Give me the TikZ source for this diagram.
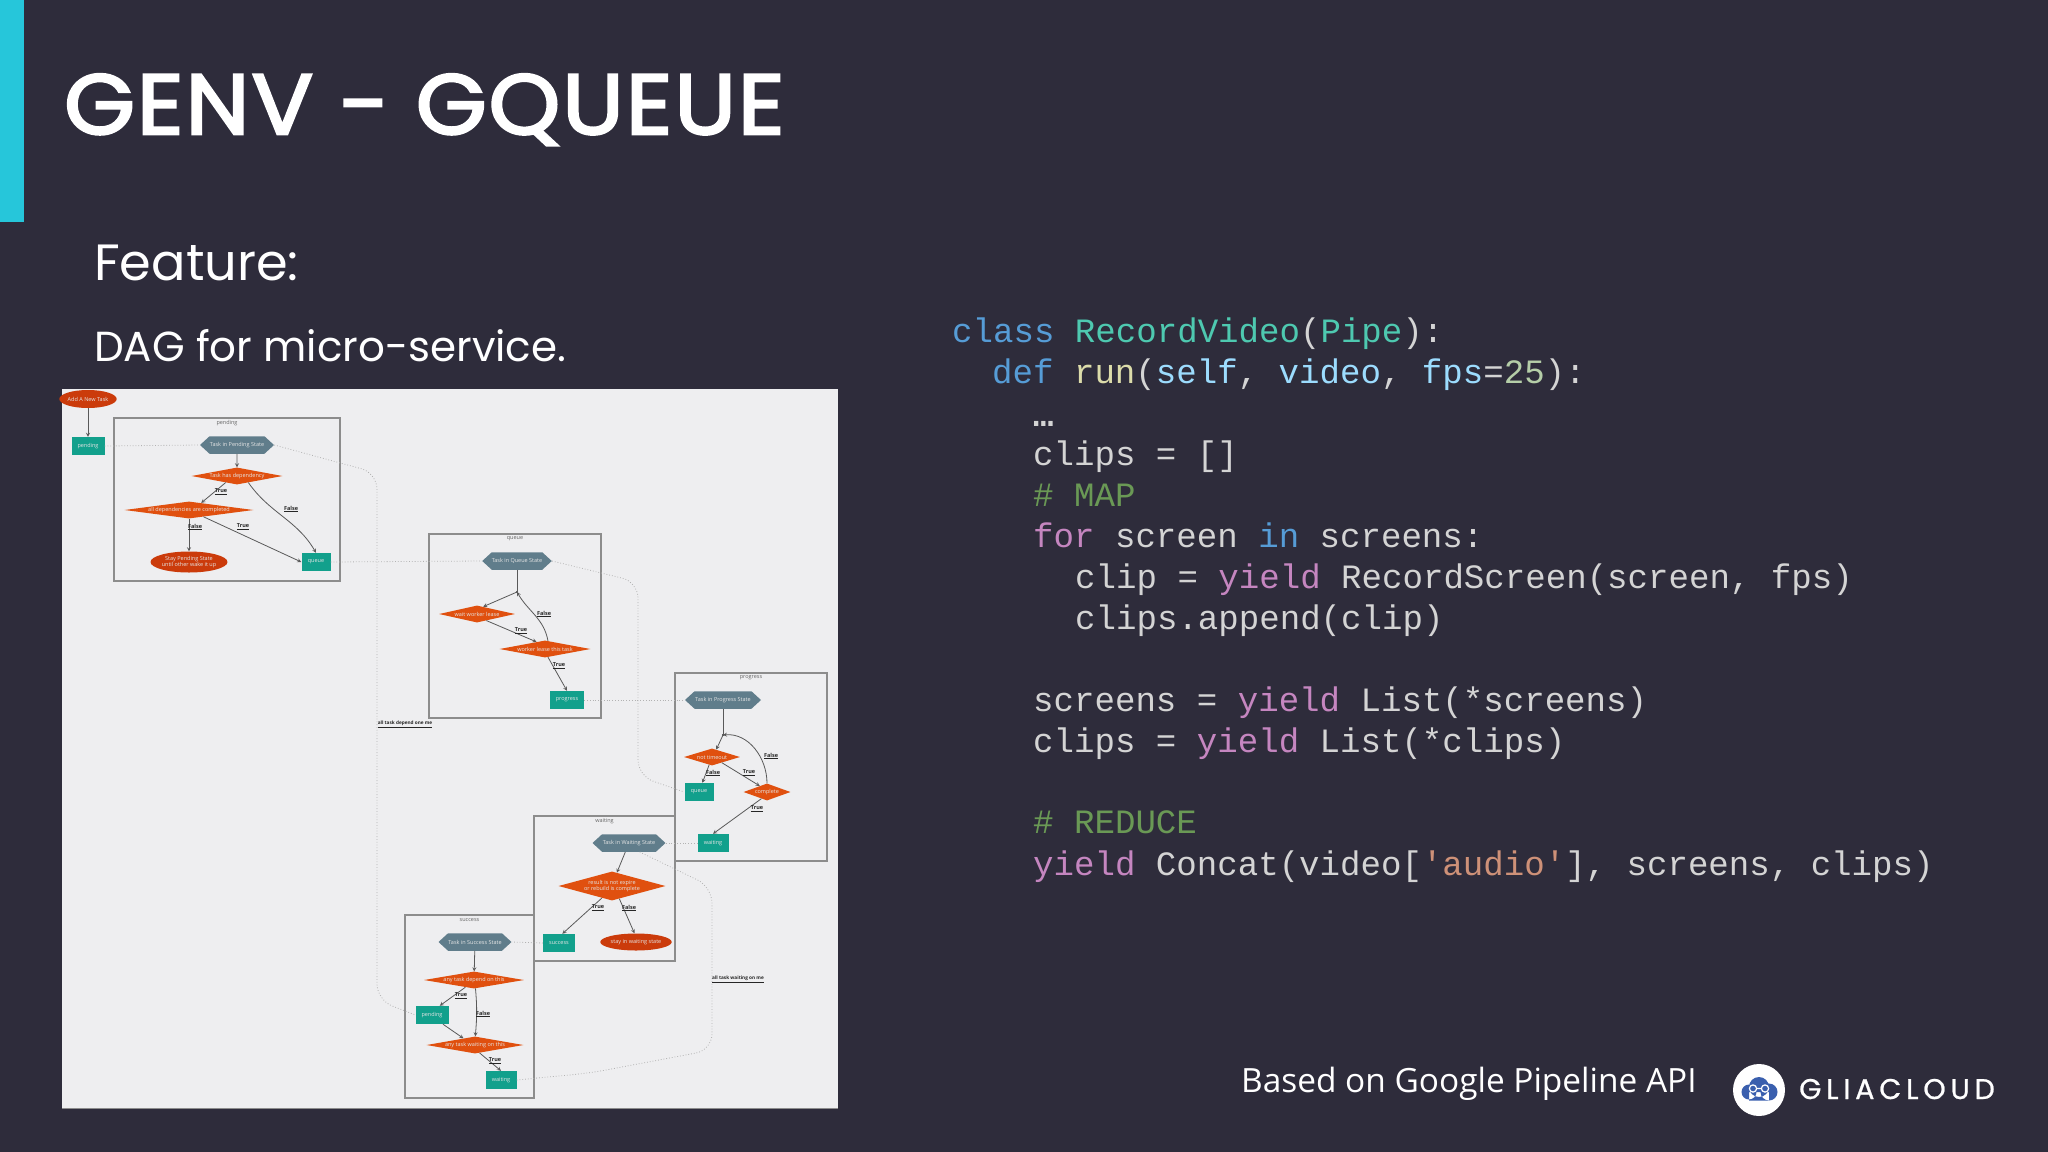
\documentclass[tikz,border=0pt]{standalone}
\usepackage{fontspec}
\usepackage{xcolor}
\setmainfont{Open Sans}
\newfontfamily\headfont{Poppins}
\newfontfamily\titlefont[FakeBold=3,FakeStretch=1.07,LetterSpace=2.4]{Poppins}
\newfontfamily\codefont{Liberation Mono}
\newfontfamily\logofont[LetterSpace=17,FakeBold=0.8]{Poppins}
\usetikzlibrary{arrows}
\usetikzlibrary{shapes.geometric}
\usetikzlibrary{shapes.symbols}
\definecolor{slidebg}{HTML}{2E2C3B}
\definecolor{accentbar}{HTML}{26C6DA}
\definecolor{panelbg}{HTML}{EEEEF0}
\definecolor{taskteal}{HTML}{12A08C}
\definecolor{stateslate}{HTML}{607D8B}
\definecolor{decideorange}{HTML}{E0500F}
\definecolor{endred}{HTML}{CB3B0B}
\definecolor{logoblue}{HTML}{3A5FAE}
\definecolor{codetext}{HTML}{D4D4D4}
\definecolor{codekw}{HTML}{569CD6}
\definecolor{codecls}{HTML}{4EC9B0}
\definecolor{codefn}{HTML}{DCDCAA}
\definecolor{codevar}{HTML}{9CDCFE}
\definecolor{codenum}{HTML}{B5CEA8}
\definecolor{codecmt}{HTML}{6A9955}
\definecolor{codeflow}{HTML}{C586C0}
\definecolor{codestr}{HTML}{CE9178}
\newcommand{\ckw}[1]{\textcolor{codekw}{#1}}
\newcommand{\ccls}[1]{\textcolor{codecls}{#1}}
\newcommand{\cfn}[1]{\textcolor{codefn}{#1}}
\newcommand{\cvar}[1]{\textcolor{codevar}{#1}}
\newcommand{\cnum}[1]{\textcolor{codenum}{#1}}
\newcommand{\ccmt}[1]{\textcolor{codecmt}{#1}}
\newcommand{\cflow}[1]{\textcolor{codeflow}{#1}}
\newcommand{\cstr}[1]{\textcolor{codestr}{#1}}
\tikzset{
    nodetext/.style={text=white!90!black, font=\fontsize{5.5}{6.5}\selectfont, align=center, inner sep=0pt},
    taskbox/.style={nodetext, rectangle, fill=taskteal, minimum width=#1pt, minimum height=18pt},
    statehex/.style={nodetext, signal, signal to=east and west, signal pointer angle=85, fill=stateslate, minimum width=#1pt, minimum height=17.5pt},
    decide/.code n args={2}{\pgfmathsetmacro\decideaspect{#1/#2}\tikzset{nodetext, diamond, fill=decideorange, aspect=\decideaspect, minimum width=#1pt, minimum height=#2pt}},
    endstate/.style n args={2}{nodetext, ellipse, fill=endred, minimum width=#1pt, minimum height=#2pt},
    cluster/.style={draw=black!45, line width=1.2pt},
    clustertitle/.style={text=black!60, font=\fontsize{5.5}{6.5}\selectfont, inner sep=0pt},
    edgelabel/.style={text=black!85, font=\fontsize{5.5}{6.5}\selectfont\bfseries, inner sep=0pt},
    flow/.style={->, >=stealth, draw=black!65, line width=0.8pt},
    depline/.style={draw=black!30, dotted, line width=0.8pt, rounded corners=16pt},
    codeline/.style={anchor=base west, inner sep=0pt, text=codetext, font=\codefont\fontsize{34.1}{41}\selectfont}
}
\begin{document}
\begin{tikzpicture}[x=1pt,y=-1pt]
\useasboundingbox (0,0) rectangle (2048,1151.5);
\fill[slidebg] (0,0) rectangle (2048,1154);
\fill[accentbar] (0,0) rectangle (24,222);
\node[anchor=base west, inner sep=0pt, text=white, font=\titlefont\fontsize{85}{90}\selectfont] (title) at (64,134) {GENV - GQUEUE};
\node[anchor=base west, inner sep=0pt, text=white, font=\headfont\fontsize{51}{60}\selectfont] (feature) at (94,280) {Feature:};
\node[anchor=base west, inner sep=0pt, text=white, font=\headfont\fontsize{42}{50}\selectfont] (dagline) at (94,361) {DAG for micro-service.};
% code
\foreach \x/\y/\p/\labeltext in {
    952/342/c1/{\ckw{class} \ccls{RecordVideo}(\ccls{Pipe}):},
    992/383/c2/{\ckw{def} \cfn{run}(\cvar{self}, \cvar{video}, \cvar{fps}=\cnum{25}):},
    1033/426/c3/{\textbf{…}},
    1033/465/c4/{clips = []},
    1033/506/c5/{\ccmt{\# MAP}},
    1033/547/c6/{\cflow{for} screen \ckw{in} screens:},
    1075/588/c7/{clip = \cflow{yield} RecordScreen(screen, fps)},
    1075/629/c8/{clips.append(clip)},
    1033/711/c9/{screens = \cflow{yield} List(*screens)},
    1033/752/c10/{clips = \cflow{yield} List(*clips)},
    1033/833/c11/{\ccmt{\# REDUCE}},
    1033/875/c12/{\cflow{yield} Concat(video[\cstr{'audio'}], screens, clips)}}{
    \node[codeline] (\p) at (\x,\y) {\labeltext};
}
\node[anchor=base west, inner sep=0pt, text=white, font=\fontsize{33.4}{40}\selectfont] (basedon) at (1241,1092) {Based on Google Pipeline API};
% logo
\fill[white] (1759,1090) circle (26);
\fill[logoblue] (1759,1087) circle (10) (1749,1092) circle (7.5) (1769,1092) circle (8.5) (1749,1092) rectangle (1769,1100.5);
\draw[white, line width=1.2pt] (1753,1088.5) circle (3.6) (1765,1088.5) circle (3.6) (1756.6,1088.5) -- (1761.4,1088.5);
\node[anchor=base west, inner sep=0pt, text=white, font=\logofont\fontsize{28.5}{30}\selectfont] (logotext) at (1799,1099) {GLIACLOUD};
% panel
\fill[panelbg] (62,389) rectangle (838,1108);
\draw[black!45, line width=1.5pt] (62,1108.5) -- (838,1108.5);
% clusters
\foreach \x/\y/\X/\Y/\p/\labeltext in {114/418/340/581/clPending/pending, 429/534/601/718/clQueue/queue, 675/673/827/861/clProgress/progress, 534/816/675/961/clWaiting/waiting, 405/915/534/1098/clSuccess/success}{
    \draw[cluster] (\x,\y) rectangle (\X,\Y);
    \node[clustertitle] (\p) at ({(\x+\X)/2},{\y+5}) {\labeltext};
}
% tasks and states
\node[endstate={50}{18}] (addTask) at (88,399) {Add A New Task};
\foreach \x/\y/\w/\p/\labeltext in {88/446/33/startPending/pending, 316/562/29/pQueue/queue, 567/700/34/qProgress/progress, 699/792/29/gQueue/queue, 713/843/31/gWaiting/waiting, 559/943/32/wSuccess/success, 432/1015/33/sPending/pending, 501/1080/31/sWaiting/waiting}{
    \node[taskbox=\w] (\p) at (\x,\y) {\labeltext};
}
\foreach \x/\y/\w/\p/\labeltext in {237/445/74/pState/Task in Pending State, 517/561/69/qState/Task in Queue State, 723/700/76/gState/Task in Progress State, 629/843/73/wState/Task in Waiting State, 475/942/73/sState/Task in Success State}{
    \node[statehex=\w] (\p) at (\x,\y) {\labeltext};
}
\foreach \x/\y/\w/\h/\p/\labeltext in {237/476/91/17/pHasDep/Task has dependency, 189/510/129/17/pAllDone/all dependencies are completed, 477/614/76/17/qLease/wait worker lease, 545/649/91/17/qThis/worker lease this task, 712/757/56/17/gTimeout/not timeout, 767/792/47/17/gDone/complete, 612/886/107/29/wResult/{result is not expire\\or rebuild is complete}, 474/980/100/17/sDepend/any task depend on this, 475/1045/97/17/sWait/any task waiting on this}{
    \node[decide={\w}{\h}] (\p) at (\x,\y) {\labeltext};
}
\node[endstate={77}{21}] (pStay) at (189,562) {Stay Pending State\\until other wake it up};
\node[endstate={61}{17}] (wStay) at (636,942) {stay in waiting state};
\coordinate (qJoin) at (517,592);
\coordinate (gJoin) at (723,735);
\fill[black!80] (qJoin) circle (1.2) (gJoin) circle (1.2);
% flow edges
\draw[flow] (addTask) -- (startPending);
\draw[flow] (pState) -- (pHasDep);
\draw[flow] (pHasDep.-150) -- (pAllDone.30);
\draw[flow] (pHasDep.-30) to[out=-55, in=120] (pQueue.north);
\draw[flow] (pAllDone) -- (pStay);
\draw[flow] (pAllDone.-25) -- (pQueue.west);
\draw[draw=black!65, line width=0.8pt] (qState) -- (qJoin);
\draw[flow] (qJoin) -- (qLease.50);
\draw[flow] (qLease.-35) -- (qThis.140);
\draw[flow] (qThis.70) to[out=100, in=-60] (qJoin);
\draw[flow] (qThis.-70) -- (qProgress.north);
\draw[draw=black!65, line width=0.8pt] (gState) -- (gJoin);
\draw[flow] (gJoin) -- (gTimeout.60);
\draw[flow] (gTimeout.-110) -- (gQueue.70);
\draw[flow] (gTimeout.-30) -- (gDone.140);
\draw[flow] (gDone.north) to[out=90, in=5] (gJoin);
\draw[flow] (gDone.-130) -- (gWaiting.north);
\draw[flow] (wState) -- (wResult.70);
\draw[flow] (wResult.-130) -- (wSuccess.70);
\draw[flow] (wResult.-60) -- (wStay.100);
\draw[flow] (sState) -- (sDepend);
\draw[flow] (sDepend.-140) -- (sPending.50);
\draw[flow] (sDepend.-80) to[out=-85, in=85] (sWait.88);
\draw[flow] (sPending.-40) -- (sWait.150);
\draw[flow] (sWait.-60) -- (sWaiting.north);
% edge labels
\foreach \x/\y/\p/\labeltext in {221/492/l1/True, 291/509/l2/False, 195/527/l3/False, 243/527/l4/True, 521/631/l5/True, 544/614/l6/False, 559/666/l7/True, 713/773/l8/False, 749/773/l9/True, 771/756/l10/False, 757/809/l11/True, 598/908/l12/True, 629/908/l13/False, 461/996/l14/True, 483/1014/l15/False, 495/1061/l16/True}{
    \node[edgelabel] (\p) at (\x,\y) {\underline{\labeltext}};
}
% dependencies
\coordinate (pBendA) at (377,473);
\coordinate (pBendB) at (377,1000);
\coordinate (qBendA) at (638,582);
\coordinate (qBendB) at (638,776);
\coordinate (wBendA) at (712,887);
\coordinate (wBendB) at (712,1050);
\coordinate (sBendA) at (590,1073);
\draw[depline] (startPending.east) -- (pState.west);
\draw[depline] (pState.east) -- (pBendA) -- (pBendB) -- (sPending.west);
\draw[depline] (pQueue.east) -- (qState.west);
\draw[depline] (qState.east) -- (qBendA) -- (qBendB) -- (gQueue.west);
\draw[depline] (qProgress.east) -- (gState.west);
\draw[depline] (gWaiting.west) -- (wState.east);
\draw[depline] (wState.-40) -- (wBendA) -- (wBendB) -- (sBendA) -- (sWaiting.east);
\draw[depline] (wSuccess.west) -- (sState.east);
\node[edgelabel, font=\fontsize{4.7}{6}\selectfont\bfseries] (allDepend) at (405,724) {\underline{all task depend one me}};
\node[edgelabel, font=\fontsize{4.7}{6}\selectfont\bfseries] (allWait) at (738,979) {\underline{all task waiting on me}};
\end{tikzpicture}
\end{document}
